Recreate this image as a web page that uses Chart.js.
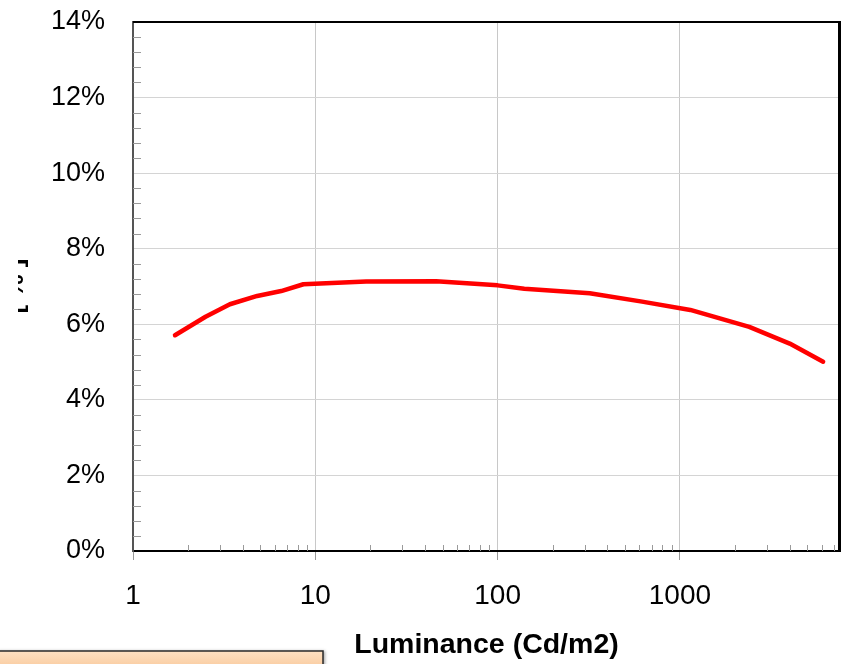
<!DOCTYPE html>
<html>
<head>
<meta charset="utf-8">
<script src="https://cdn.jsdelivr.net/npm/chart.js@4.4.0/dist/chart.umd.min.js"></script>
<style>
body { margin: 0; background: #fff; }
#wrap { width: 842px; height: 664px; }
</style>
</head>
<body>
<div id="wrap"><canvas id="lumChart"></canvas></div>
<script>
// luminance (cd/m2) and the measured fraction (%)
var luminance = [1.7, 2.5, 3.4, 4.8, 6.5, 8.6, 19, 46, 100, 140, 320, 620, 1140, 2400, 4000, 6100];
var fraction = [5.71, 6.2, 6.53, 6.75, 6.88, 7.06, 7.13, 7.14, 7.03, 6.94, 6.82, 6.6, 6.38, 5.93, 5.49, 5.01];
var decades = [1, 10, 100, 1000];
var xMax = 7550;
var yMax = 14;
var yStep = 2;
var yMinorStep = 0.4;
var xTitle = 'Luminance (Cd/m2)';
var yTitle = '[ % ]';

Chart.defaults.font.family = "'Liberation Sans', Arial, sans-serif";
Chart.defaults.color = '#000';

function isDecade(v) {
    return decades.indexOf(v) >= 0;
}

// small inward tick marks between the labelled ones
var minorTicks = {
    id: 'minorTicks',
    beforeDatasetsDraw: function (chart) {
        var ctx = chart.ctx, xs = chart.scales.x, ys = chart.scales.y;
        ctx.save();
        ctx.strokeStyle = '#9a9a9a';
        ctx.lineWidth = 1;
        ctx.beginPath();
        xs.ticks.forEach(function (t) {
            if (isDecade(t.value)) return;
            var px = Math.round(xs.getPixelForValue(t.value)) + 0.5;
            ctx.moveTo(px, ys.bottom);
            ctx.lineTo(px, ys.bottom - 6);
        });
        for (var i = 1; i * yMinorStep < yMax; i++) {
            if (i % 5 === 0) continue;
            var py = Math.round(ys.getPixelForValue(i * yMinorStep)) + 0.5;
            ctx.moveTo(xs.left, py);
            ctx.lineTo(xs.left + 8, py);
        }
        ctx.stroke();
        ctx.restore();
    }
};

// black frame on top and right, clipped y title, orange box at the bottom
var extras = {
    id: 'extras',
    afterDraw: function (chart) {
        var ctx = chart.ctx, a = chart.chartArea;
        ctx.save();
        ctx.strokeStyle = '#000';
        ctx.lineWidth = 2;
        ctx.beginPath();
        ctx.moveTo(a.left, a.top);
        ctx.lineTo(a.right, a.top);
        ctx.stroke();
        ctx.lineWidth = 3;
        ctx.beginPath();
        ctx.moveTo(a.right - 0.5, a.top - 1);
        ctx.lineTo(a.right - 0.5, a.bottom);
        ctx.stroke();
        ctx.restore();

        ctx.save();
        ctx.beginPath();
        ctx.rect(18, 0, 40, chart.height);
        ctx.clip();
        ctx.translate(23, 286);
        ctx.rotate(-Math.PI / 2);
        ctx.font = "bold 26px 'Liberation Sans', Arial, sans-serif";
        ctx.textAlign = 'center';
        ctx.textBaseline = 'alphabetic';
        ctx.fillStyle = '#000';
        ctx.fillText(yTitle, 0, 0);
        ctx.restore();

        ctx.save();
        var g = ctx.createLinearGradient(0, 651, 0, 670);
        g.addColorStop(0, '#fde0c2');
        g.addColorStop(1, '#f9c89a');
        ctx.shadowColor = 'rgba(0,0,0,0.35)';
        ctx.shadowBlur = 3;
        ctx.shadowOffsetX = 2;
        ctx.fillStyle = g;
        ctx.fillRect(-4, 651, 327, 20);
        ctx.shadowColor = 'transparent';
        ctx.strokeStyle = '#2a2a2a';
        ctx.lineWidth = 1.5;
        ctx.beginPath();
        ctx.moveTo(-4, 651);
        ctx.lineTo(323, 651);
        ctx.lineTo(323, 670);
        ctx.stroke();
        ctx.restore();
    }
};

var points = luminance.map(function (l, i) {
    return { x: l, y: fraction[i] };
});

var lumChart = new Chart('lumChart', {
    type: 'line',
    data: {
        datasets: [{
            data: points,
            borderColor: '#ff0000',
            borderWidth: 4.5,
            borderJoinStyle: 'round',
            borderCapStyle: 'round',
            pointRadius: 0,
            tension: 0,
            fill: false
        }]
    },
    options: {
        responsive: true,
        maintainAspectRatio: false,
        animation: false,
        layout: { padding: { left: 0, top: 22, right: 2, bottom: 0 } },
        plugins: {
            legend: { display: false },
            tooltip: { enabled: false }
        },
        scales: {
            x: {
                type: 'logarithmic',
                min: 1,
                max: xMax,
                afterBuildTicks: function (scale) {
                    var list = [];
                    decades.forEach(function (d) {
                        for (var m = 1; m < 10; m++) {
                            if (d * m <= xMax) list.push({ value: d * m });
                        }
                    });
                    scale.ticks = list;
                },
                afterFit: function (scale) {
                    scale.height = 113;
                    scale.paddingLeft = 0;
                    scale.paddingRight = 0;
                },
                border: { color: '#000', width: 2 },
                grid: {
                    color: function (c) {
                        return c.tick && isDecade(c.tick.value) && c.tick.value !== 1 ? '#c8c8c8' : 'rgba(0,0,0,0)';
                    },
                    tickColor: function (c) {
                        return c.tick && isDecade(c.tick.value) ? '#999' : 'rgba(0,0,0,0)';
                    },
                    tickLength: 9
                },
                ticks: {
                    autoSkip: false,
                    maxRotation: 0,
                    padding: 19,
                    font: { size: 28 },
                    callback: function (v) {
                        return isDecade(v) ? String(v) : '';
                    }
                },
                title: {
                    display: true,
                    text: xTitle,
                    font: { size: 28.5, weight: 'bold' },
                    padding: { top: 0, bottom: 2 }
                }
            },
            y: {
                min: 0,
                max: yMax,
                afterFit: function (scale) {
                    scale.width = 133;
                    scale.paddingTop = 0;
                    scale.paddingBottom = 0;
                },
                border: { color: '#555', width: 2 },
                grid: { color: '#d4d4d4', drawTicks: false },
                ticks: {
                    stepSize: yStep,
                    padding: 28,
                    font: { size: 27 },
                    callback: function (v) { return v + '%'; }
                }
            }
        }
    },
    plugins: [minorTicks, extras]
});
</script>
</body>
</html>
